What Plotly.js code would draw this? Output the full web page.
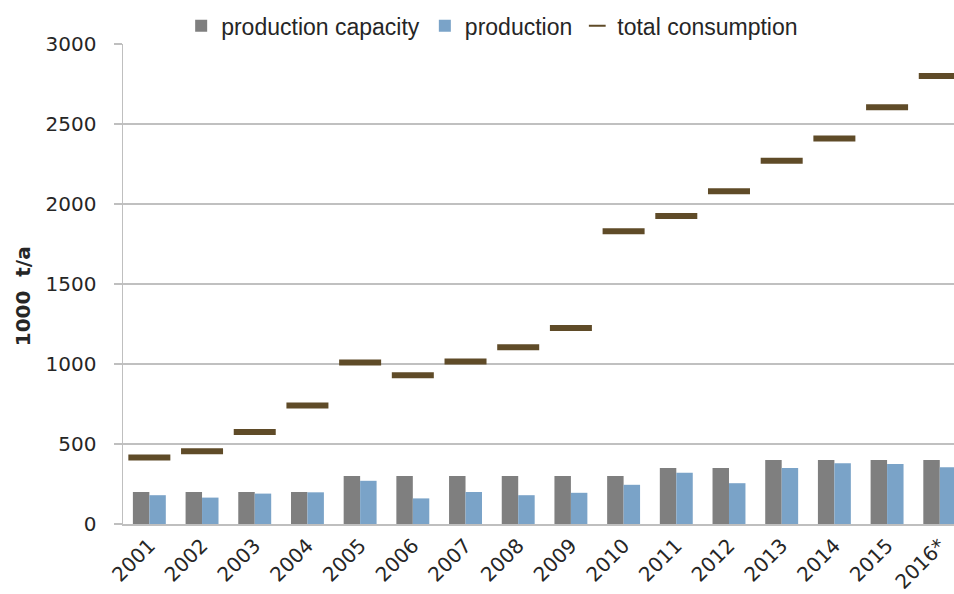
<!DOCTYPE html>
<html>
<head>
<meta charset="utf-8">
<script src="https://cdn.plot.ly/plotly-3.0.1.min.js"></script>
<style>html,body{margin:0;padding:0;background:#fff;}#chart{width:954px;height:594px;}</style>
</head>
<body>
<div id="chart"></div>
<script>
var years = ["2001","2002","2003","2004","2005","2006","2007","2008","2009","2010","2011","2012","2013","2014","2015","2016*"];
var capacity = [200,200,200,200,300,300,300,300,300,300,350,350,400,400,400,400];
var production = [180,165,190,198,270,160,200,180,195,245,320,255,350,380,375,355];
var consumption = [415,455,575,740,1010,930,1015,1105,1225,1830,1925,2080,2270,2410,2605,2800];
var yTitle = '1000&nbsp; t/a';

var traces = [
  {type:'bar', name:'production capacity', x:years, y:capacity,
   marker:{color:'#7f7f7f'}},
  {type:'bar', name:'production', x:years, y:production,
   marker:{color:'#7aa3c8'}},
  {type:'scatter', mode:'markers', name:'total consumption', x:years, y:consumption,
   marker:{symbol:'line-ew', size:30, color:'#5f4b28', line:{color:'#5f4b28', width:6}}}
];

var layout = {
  width:954, height:594,
  margin:{l:123, r:0, t:44, b:70, pad:0},
  paper_bgcolor:'#ffffff', plot_bgcolor:'#ffffff',
  barmode:'group', bargap:0.375, bargroupgap:0,
  font:{family:'DejaVu Sans, sans-serif', color:'#262626'},
  showlegend:true,
  legend:{orientation:'h', x:0.07, xanchor:'left', y:1.038, yanchor:'middle',
          font:{family:'Liberation Sans, Arial, sans-serif', size:23, color:'#262626'},
          traceorder:'normal', itemwidth:30, itemsizing:'constant', bgcolor:'rgba(0,0,0,0)'},
  xaxis:{type:'category', range:[-0.5, 15.27], tickangle:-45,
         tickfont:{size:20, color:'#262626'}, showgrid:false, zeroline:false,
         showline:true, linecolor:'#bfbfbf', linewidth:2, ticks:'', fixedrange:true},
  yaxis:{range:[0,3000], tickvals:[0,500,1000,1500,2000,2500,3000],
         tickfont:{size:20, color:'#262626'}, showgrid:true, gridcolor:'#c0c0c0', gridwidth:1.5,
         zeroline:false, showline:true, linecolor:'#bfbfbf', linewidth:1.5,
         ticks:'outside', ticklen:8, tickcolor:'#bfbfbf', tickwidth:1.5, ticklabelstandoff:13},
  annotations:[{text:'<b>'+yTitle+'</b>', xref:'paper', yref:'paper', x:-0.12, y:0.475,
                xanchor:'center', yanchor:'middle', textangle:-90, showarrow:false,
                font:{size:20, color:'#262626', family:'DejaVu Sans, sans-serif'}}]
};

Plotly.newPlot('chart', traces, layout, {displayModeBar:false, staticPlot:true});
</script>
</body>
</html>
